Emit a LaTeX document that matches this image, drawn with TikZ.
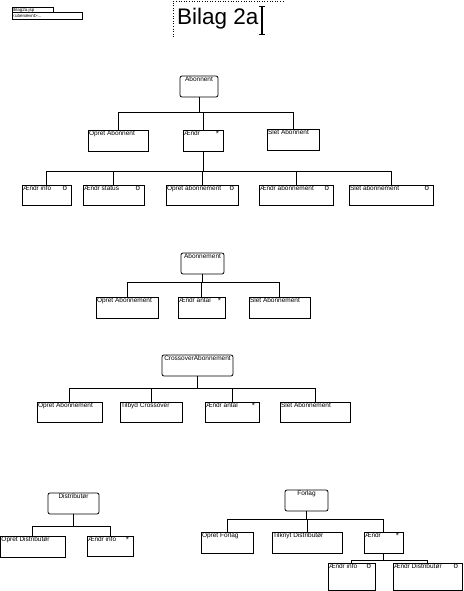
\documentclass[tikz,border=0pt]{standalone}
\usepackage{fontspec}
\setmainfont{Liberation Sans}
\begin{document}
\begin{tikzpicture}[x=1pt,y=-1pt,
  jsp/.style={draw,line width=0.75pt,inner sep=0pt,outer sep=0pt},
  jsproot/.style={jsp,rounded corners=2pt},
  lbl/.style={inner sep=0.8pt,font=\fontsize{6.5}{7}\selectfont},
  sym/.style={inner sep=0.8pt,font=\fontsize{8}{8}\selectfont},
  conn/.style={line width=0.75pt},
  tiny/.style={inner sep=0.5pt,font=\fontsize{4.5}{5}\selectfont}]
\useasboundingbox (0,0) rectangle (463,591);
\newcommand\jspbox[8][]{%
  \node[jsp,#1,minimum width={(#5-#3)*1pt},minimum height={(#6-#4)*1pt}] (#2) at ({(#3+#5)/2},{(#4+#6)/2}) {};
  \node[lbl,anchor=north west] at (#2.north west) {#7};
  \node[sym,anchor=north east,xshift=-3pt] at (#2.north east) {#8};}
\newcommand\jsproot[6]{%
  \node[jsproot,minimum width={(#4-#2)*1pt},minimum height={(#5-#3)*1pt}] (#1) at ({(#2+#4)/2},{(#3+#5)/2}) {};
  \node[lbl,anchor=north] at (#1.north) {#6};}
\newcommand\jlink[3]{%
  \path (0,#2) coordinate (tmpbus);
  \draw[conn] (#1.south) -- (#1.south |- tmpbus) -| (#3.north);}
% header boxes
\node[draw,line width=0.6pt,minimum width=41pt,minimum height=5.5pt,inner sep=0pt] (h1) at (32.5,10) {};
\node[tiny,anchor=west] at (h1.west) {Bilag2a.jsp};
\node[draw,line width=0.6pt,minimum width=70pt,minimum height=6.5pt,inner sep=0pt] (h2) at (47,16) {};
\node[tiny,anchor=west] at (h2.west) {<ubenævnt>...};
% title
\draw[dotted,line width=0.6pt] (173,37) -- (173,1) -- (285,1);
\node[anchor=base west,inner sep=0pt,font=\fontsize{22.5}{24}\selectfont] (title) at (177,25) {Bilag 2a};
\draw[line width=1.2pt] (262,6) -- (262,34);
\draw[line width=0.7pt] (259,6) -- (265,6) (259,34) -- (265,34);
% Abonnent
\jsproot{A0}{180}{76}{218}{97}{Abonnent}
\jspbox{A1}{88}{130}{148}{151}{Opret Abonnent}{}
\jspbox{A2}{183}{130}{223}{151}{Ændr}{*}
\jspbox{A3}{267}{129}{319}{150}{Slet Abonnent}{}
\jspbox{A21}{22}{185}{71}{205}{Ændr info}{o}
\jspbox{A22}{83}{185}{144}{205}{Ændr status}{o}
\jspbox{A23}{166}{185}{238}{205}{Opret abonnement}{o}
\jspbox{A24}{259}{185}{333}{205}{Ændr abonnement}{o}
\jspbox{A25}{349}{185}{433}{205}{Slet abonnement}{o}
\foreach \c in {A1,A2,A3} {\jlink{A0}{112}{\c}}
\foreach \c in {A21,A22,A23,A24,A25} {\jlink{A2}{171}{\c}}
% Abonnement
\jsproot{B0}{181}{253}{224}{274}{Abonnement}
\jspbox{B1}{96}{297}{158}{318}{Opret Abonnement}{}
\jspbox{B2}{178}{297}{225}{318}{Ændr antal}{*}
\jspbox{B3}{249}{297}{310}{318}{Slet Abonnement}{}
\foreach \c in {B1,B2,B3} {\jlink{B0}{282}{\c}}
% CrossoverAbonnement
\jsproot{C0}{162}{355}{233}{376}{CrossoverAbonnement}
\jspbox{C1}{37}{402}{102}{422}{Opret Abonnement}{}
\jspbox{C2}{120}{402}{182}{422}{Tilbyd Crossover}{}
\jspbox{C3}{205}{402}{259}{422}{Ændr antal}{*}
\jspbox{C4}{280}{402}{350}{422}{Slet Abonnement}{}
\foreach \c in {C1,C2,C3,C4} {\jlink{C0}{388}{\c}}
% Distributor
\jsproot{D0}{48}{493}{99}{514}{Distributør}
\jspbox{D1}{0.5}{536}{65}{557}{Opret Distributør}{}
\jspbox{D2}{87}{536}{133}{556}{Ændr info}{*}
\foreach \c in {D1,D2} {\jlink{D0}{526}{\c}}
% Forlag
\jsproot{E0}{285}{490}{328}{511}{Forlag}
\jspbox{E1}{201}{532}{253}{553}{Opret Forlag}{}
\jspbox{E2}{272}{532}{342}{553}{Tilknyt Distributør}{}
\jspbox{E3}{364}{532}{403}{553}{Ændr}{*}
\jspbox{E31}{328}{563}{375}{590}{Ændr info}{o}
\jspbox{E32}{393}{563}{462}{590}{Ændr Distributør}{o}
\foreach \c in {E1,E2,E3} {\jlink{E0}{519}{\c}}
\foreach \c in {E31,E32} {\jlink{E3}{560}{\c}}
\end{tikzpicture}
\end{document}
